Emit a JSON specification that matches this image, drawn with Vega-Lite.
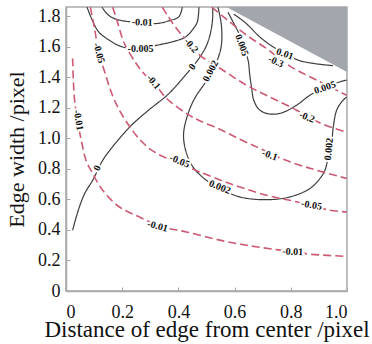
{
  "$schema": "https://vega.github.io/schema/vega-lite/v6.json",
  "width": 281,
  "height": 284,
  "autosize": "none",
  "padding": {"left": 66, "top": 7, "right": 25, "bottom": 53},
  "background": "white",
  "config": {
    "view": {"stroke": "#a9a9a9", "strokeWidth": 1.5},
    "font": "Liberation Serif",
    "axis": {
      "domainColor": "#a9a9a9",
      "domainWidth": 1.5,
      "tickColor": "#a9a9a9",
      "tickSize": -4,
      "grid": false,
      "labelFont": "Liberation Serif",
      "labelFontSize": 18,
      "labelColor": "#111111",
      "titleFont": "Liberation Serif",
      "titleFontSize": 22,
      "titleFontWeight": "normal",
      "titleColor": "#111111"
    }
  },
  "datasets": {
    "gray": [
      {"x": 0.571, "y": 1.86},
      {"x": 1.0, "y": 1.435}
    ],
    "lines": [
      {"k": "s-0.01", "t": "solid", "x": 0.1284, "y": 1.859},
      {"k": "s-0.01", "t": "solid", "x": 0.1473, "y": 1.813},
      {"k": "s-0.01", "t": "solid", "x": 0.1723, "y": 1.784},
      {"k": "s-0.01", "t": "solid", "x": 0.2116, "y": 1.767},
      {"k": "s-0.01", "t": "solid", "x": 0.2711, "y": 1.759},
      {"k": "s-0.01", "t": "solid", "x": 0.3247, "y": 1.752},
      {"k": "s-0.01", "t": "solid", "x": 0.3686, "y": 1.771},
      {"k": "s-0.01", "t": "solid", "x": 0.4017, "y": 1.796},
      {"k": "s-0.01", "t": "solid", "x": 0.4138, "y": 1.859},

      {"k": "s-0.005", "t": "solid", "x": 0.0749, "y": 1.859},
      {"k": "s-0.005", "t": "solid", "x": 0.0903, "y": 1.787},
      {"k": "s-0.005", "t": "solid", "x": 0.1163, "y": 1.697},
      {"k": "s-0.005", "t": "solid", "x": 0.1544, "y": 1.642},
      {"k": "s-0.005", "t": "solid", "x": 0.1998, "y": 1.599},
      {"k": "s-0.005", "t": "solid", "x": 0.2651, "y": 1.588},
      {"k": "s-0.005", "t": "solid", "x": 0.3247, "y": 1.610},
      {"k": "s-0.005", "t": "solid", "x": 0.3864, "y": 1.636},
      {"k": "s-0.005", "t": "solid", "x": 0.4256, "y": 1.664},
      {"k": "s-0.005", "t": "solid", "x": 0.4542, "y": 1.721},
      {"k": "s-0.005", "t": "solid", "x": 0.4674, "y": 1.763},
      {"k": "s-0.005", "t": "solid", "x": 0.4731, "y": 1.859},

      {"k": "s0", "t": "solid", "x": 0.0235, "y": 0.398},
      {"k": "s0", "t": "solid", "x": 0.0474, "y": 0.550},
      {"k": "s0", "t": "solid", "x": 0.0689, "y": 0.647},
      {"k": "s0", "t": "solid", "x": 0.0949, "y": 0.725},
      {"k": "s0", "t": "solid", "x": 0.1306, "y": 0.856},
      {"k": "s0", "t": "solid", "x": 0.1616, "y": 0.935},
      {"k": "s0", "t": "solid", "x": 0.2294, "y": 1.079},
      {"k": "s0", "t": "solid", "x": 0.2936, "y": 1.184},
      {"k": "s0", "t": "solid", "x": 0.3614, "y": 1.285},
      {"k": "s0", "t": "solid", "x": 0.4281, "y": 1.420},
      {"k": "s0", "t": "solid", "x": 0.4756, "y": 1.530},
      {"k": "s0", "t": "solid", "x": 0.5005, "y": 1.610},
      {"k": "s0", "t": "solid", "x": 0.5148, "y": 1.695},
      {"k": "s0", "t": "solid", "x": 0.5219, "y": 1.787},
      {"k": "s0", "t": "solid", "x": 0.5219, "y": 1.859},

      {"k": "s0.002", "t": "solid", "x": 0.5408, "y": 1.859},
      {"k": "s0.002", "t": "solid", "x": 0.5530, "y": 1.741},
      {"k": "s0.002", "t": "solid", "x": 0.5530, "y": 1.610},
      {"k": "s0.002", "t": "solid", "x": 0.5408, "y": 1.523},
      {"k": "s0.002", "t": "solid", "x": 0.5230, "y": 1.446},
      {"k": "s0.002", "t": "solid", "x": 0.4934, "y": 1.359},
      {"k": "s0.002", "t": "solid", "x": 0.4577, "y": 1.261},
      {"k": "s0.002", "t": "solid", "x": 0.4328, "y": 1.152},
      {"k": "s0.002", "t": "solid", "x": 0.4185, "y": 1.031},
      {"k": "s0.002", "t": "solid", "x": 0.4256, "y": 0.922},
      {"k": "s0.002", "t": "solid", "x": 0.4517, "y": 0.813},
      {"k": "s0.002", "t": "solid", "x": 0.4995, "y": 0.725},
      {"k": "s0.002", "t": "solid", "x": 0.5470, "y": 0.673},
      {"k": "s0.002", "t": "solid", "x": 0.6183, "y": 0.616},
      {"k": "s0.002", "t": "solid", "x": 0.7135, "y": 0.598},
      {"k": "s0.002", "t": "solid", "x": 0.7966, "y": 0.616},
      {"k": "s0.002", "t": "solid", "x": 0.8680, "y": 0.671},
      {"k": "s0.002", "t": "solid", "x": 0.9037, "y": 0.737},
      {"k": "s0.002", "t": "solid", "x": 0.9215, "y": 0.791},
      {"k": "s0.002", "t": "solid", "x": 0.9333, "y": 0.878},
      {"k": "s0.002", "t": "solid", "x": 0.9454, "y": 0.968},
      {"k": "s0.002", "t": "solid", "x": 0.9511, "y": 1.075},
      {"k": "s0.002", "t": "solid", "x": 0.9632, "y": 1.184},
      {"k": "s0.002", "t": "solid", "x": 0.9811, "y": 1.239},
      {"k": "s0.002", "t": "solid", "x": 0.9990, "y": 1.271},

      {"k": "s0.005", "t": "solid", "x": 0.5765, "y": 1.826},
      {"k": "s0.005", "t": "solid", "x": 0.6004, "y": 1.741},
      {"k": "s0.005", "t": "solid", "x": 0.6183, "y": 1.676},
      {"k": "s0.005", "t": "solid", "x": 0.6300, "y": 1.610},
      {"k": "s0.005", "t": "solid", "x": 0.6479, "y": 1.512},
      {"k": "s0.005", "t": "solid", "x": 0.6540, "y": 1.414},
      {"k": "s0.005", "t": "solid", "x": 0.6600, "y": 1.337},
      {"k": "s0.005", "t": "solid", "x": 0.6682, "y": 1.250},
      {"k": "s0.005", "t": "solid", "x": 0.6860, "y": 1.191},
      {"k": "s0.005", "t": "solid", "x": 0.7135, "y": 1.163},
      {"k": "s0.005", "t": "solid", "x": 0.7610, "y": 1.163},
      {"k": "s0.005", "t": "solid", "x": 0.8206, "y": 1.217},
      {"k": "s0.005", "t": "solid", "x": 0.8680, "y": 1.282},
      {"k": "s0.005", "t": "solid", "x": 0.9215, "y": 1.333},
      {"k": "s0.005", "t": "solid", "x": 0.9750, "y": 1.370},
      {"k": "s0.005", "t": "solid", "x": 0.9990, "y": 1.381},

      {"k": "s0.01", "t": "solid", "x": 0.5969, "y": 1.813},
      {"k": "s0.01", "t": "solid", "x": 0.6360, "y": 1.761},
      {"k": "s0.01", "t": "solid", "x": 0.6897, "y": 1.664},
      {"k": "s0.01", "t": "solid", "x": 0.7371, "y": 1.599},
      {"k": "s0.01", "t": "solid", "x": 0.7788, "y": 1.556},
      {"k": "s0.01", "t": "solid", "x": 0.8263, "y": 1.512},
      {"k": "s0.01", "t": "solid", "x": 0.8858, "y": 1.489},
      {"k": "s0.01", "t": "solid", "x": 0.9500, "y": 1.476},

      {"k": "d-0.01", "t": "dashed", "x": 0.0235, "y": 1.523},
      {"k": "d-0.01", "t": "dashed", "x": 0.0296, "y": 1.271},
      {"k": "d-0.01", "t": "dashed", "x": 0.0414, "y": 1.107},
      {"k": "d-0.01", "t": "dashed", "x": 0.0546, "y": 0.986},
      {"k": "d-0.01", "t": "dashed", "x": 0.0714, "y": 0.855},
      {"k": "d-0.01", "t": "dashed", "x": 0.0949, "y": 0.769},
      {"k": "d-0.01", "t": "dashed", "x": 0.1306, "y": 0.660},
      {"k": "d-0.01", "t": "dashed", "x": 0.1900, "y": 0.550},
      {"k": "d-0.01", "t": "dashed", "x": 0.2615, "y": 0.485},
      {"k": "d-0.01", "t": "dashed", "x": 0.3330, "y": 0.424},
      {"k": "d-0.01", "t": "dashed", "x": 0.4280, "y": 0.387},
      {"k": "d-0.01", "t": "dashed", "x": 0.5470, "y": 0.333},
      {"k": "d-0.01", "t": "dashed", "x": 0.6540, "y": 0.296},
      {"k": "d-0.01", "t": "dashed", "x": 0.7490, "y": 0.271},
      {"k": "d-0.01", "t": "dashed", "x": 0.8080, "y": 0.256},
      {"k": "d-0.01", "t": "dashed", "x": 0.8740, "y": 0.240},
      {"k": "d-0.01", "t": "dashed", "x": 0.9990, "y": 0.227},

      {"k": "d-0.05", "t": "dashed", "x": 0.0867, "y": 1.859},
      {"k": "d-0.05", "t": "dashed", "x": 0.1013, "y": 1.722},
      {"k": "d-0.05", "t": "dashed", "x": 0.1152, "y": 1.577},
      {"k": "d-0.05", "t": "dashed", "x": 0.1402, "y": 1.420},
      {"k": "d-0.05", "t": "dashed", "x": 0.1652, "y": 1.282},
      {"k": "d-0.05", "t": "dashed", "x": 0.1900, "y": 1.184},
      {"k": "d-0.05", "t": "dashed", "x": 0.2258, "y": 1.079},
      {"k": "d-0.05", "t": "dashed", "x": 0.2615, "y": 0.994},
      {"k": "d-0.05", "t": "dashed", "x": 0.3043, "y": 0.922},
      {"k": "d-0.05", "t": "dashed", "x": 0.3508, "y": 0.876},
      {"k": "d-0.05", "t": "dashed", "x": 0.4040, "y": 0.837},
      {"k": "d-0.05", "t": "dashed", "x": 0.4756, "y": 0.780},
      {"k": "d-0.05", "t": "dashed", "x": 0.5826, "y": 0.704},
      {"k": "d-0.05", "t": "dashed", "x": 0.7135, "y": 0.627},
      {"k": "d-0.05", "t": "dashed", "x": 0.7966, "y": 0.594},
      {"k": "d-0.05", "t": "dashed", "x": 0.8740, "y": 0.562},
      {"k": "d-0.05", "t": "dashed", "x": 0.9390, "y": 0.529},
      {"k": "d-0.05", "t": "dashed", "x": 0.9990, "y": 0.518},

      {"k": "d-0.1", "t": "dashed", "x": 0.1663, "y": 1.859},
      {"k": "d-0.1", "t": "dashed", "x": 0.1830, "y": 1.761},
      {"k": "d-0.1", "t": "dashed", "x": 0.2080, "y": 1.621},
      {"k": "d-0.1", "t": "dashed", "x": 0.2497, "y": 1.490},
      {"k": "d-0.1", "t": "dashed", "x": 0.2793, "y": 1.420},
      {"k": "d-0.1", "t": "dashed", "x": 0.3150, "y": 1.359},
      {"k": "d-0.1", "t": "dashed", "x": 0.3568, "y": 1.263},
      {"k": "d-0.1", "t": "dashed", "x": 0.4281, "y": 1.163},
      {"k": "d-0.1", "t": "dashed", "x": 0.4756, "y": 1.115},
      {"k": "d-0.1", "t": "dashed", "x": 0.5470, "y": 1.060},
      {"k": "d-0.1", "t": "dashed", "x": 0.6183, "y": 0.994},
      {"k": "d-0.1", "t": "dashed", "x": 0.6780, "y": 0.944},
      {"k": "d-0.1", "t": "dashed", "x": 0.7256, "y": 0.902},
      {"k": "d-0.1", "t": "dashed", "x": 0.7727, "y": 0.863},
      {"k": "d-0.1", "t": "dashed", "x": 0.8323, "y": 0.824},
      {"k": "d-0.1", "t": "dashed", "x": 0.8919, "y": 0.791},
      {"k": "d-0.1", "t": "dashed", "x": 0.9990, "y": 0.737},

      {"k": "d-0.2", "t": "dashed", "x": 0.3425, "y": 1.859},
      {"k": "d-0.2", "t": "dashed", "x": 0.3650, "y": 1.794},
      {"k": "d-0.2", "t": "dashed", "x": 0.3900, "y": 1.728},
      {"k": "d-0.2", "t": "dashed", "x": 0.4185, "y": 1.663},
      {"k": "d-0.2", "t": "dashed", "x": 0.4460, "y": 1.604},
      {"k": "d-0.2", "t": "dashed", "x": 0.4756, "y": 1.545},
      {"k": "d-0.2", "t": "dashed", "x": 0.5587, "y": 1.446},
      {"k": "d-0.2", "t": "dashed", "x": 0.6422, "y": 1.348},
      {"k": "d-0.2", "t": "dashed", "x": 0.7253, "y": 1.271},
      {"k": "d-0.2", "t": "dashed", "x": 0.8206, "y": 1.184},
      {"k": "d-0.2", "t": "dashed", "x": 0.8562, "y": 1.145},
      {"k": "d-0.2", "t": "dashed", "x": 0.9155, "y": 1.092},
      {"k": "d-0.2", "t": "dashed", "x": 0.9990, "y": 1.040},

      {"k": "d-0.3", "t": "dashed", "x": 0.5184, "y": 1.859},
      {"k": "d-0.3", "t": "dashed", "x": 0.5708, "y": 1.780},
      {"k": "d-0.3", "t": "dashed", "x": 0.6422, "y": 1.676},
      {"k": "d-0.3", "t": "dashed", "x": 0.7135, "y": 1.588},
      {"k": "d-0.3", "t": "dashed", "x": 0.7538, "y": 1.531},
      {"k": "d-0.3", "t": "dashed", "x": 0.7966, "y": 1.473},
      {"k": "d-0.3", "t": "dashed", "x": 0.8919, "y": 1.381},
      {"k": "d-0.3", "t": "dashed", "x": 0.9990, "y": 1.282}
    ],
    "labels": [
      {"text": "-0.01", "x": 0.2711, "y": 1.759, "a": 2},
      {"text": "-0.005", "x": 0.2651, "y": 1.588, "a": 0},
      {"text": "0", "x": 0.4495, "y": 1.468, "a": -50},
      {"text": "0", "x": 0.1117, "y": 0.804, "a": -62},
      {"text": "0.002", "x": 0.5148, "y": 1.44, "a": -62},
      {"text": "0.002", "x": 0.547, "y": 0.68, "a": 22},
      {"text": "0.002", "x": 0.9358, "y": 0.929, "a": -84},
      {"text": "0.005", "x": 0.6254, "y": 1.61, "a": 70},
      {"text": "0.005", "x": 0.9215, "y": 1.332, "a": -18},
      {"text": "0.01", "x": 0.7788, "y": 1.551, "a": 20},
      {"text": "-0.01", "x": 0.0439, "y": 1.119, "a": 80},
      {"text": "-0.01", "x": 0.3257, "y": 0.424, "a": 15},
      {"text": "-0.01", "x": 0.8073, "y": 0.257, "a": 3},
      {"text": "-0.05", "x": 0.117, "y": 1.558, "a": 75},
      {"text": "-0.05", "x": 0.4042, "y": 0.85, "a": 22},
      {"text": "-0.05", "x": 0.874, "y": 0.562, "a": 10},
      {"text": "-0.1", "x": 0.3115, "y": 1.368, "a": 50},
      {"text": "-0.1", "x": 0.7253, "y": 0.889, "a": 20},
      {"text": "-0.2", "x": 0.4452, "y": 1.607, "a": 50},
      {"text": "-0.2", "x": 0.8573, "y": 1.138, "a": 22},
      {"text": "-0.3", "x": 0.7467, "y": 1.502, "a": 25}
    ]
  },
  "encoding": {
    "x": {
      "field": "x",
      "type": "quantitative",
      "scale": {"domain": [0, 1], "nice": false, "zero": false},
      "axis": {
        "title": "Distance of edge from center /pixel",
        "titleFontSize": 23,
        "values": [0, 0.2, 0.4, 0.6, 0.8, 1.0],
        "labelExpr": "datum.value === 0 ? '0' : format(datum.value, '.1f')",
        "labelPadding": 16,
        "titlePadding": -3
      }
    },
    "y": {
      "field": "y",
      "type": "quantitative",
      "scale": {"domain": [0, 1.86], "nice": false, "zero": false},
      "axis": {
        "title": "Edge width /pixel",
        "values": [0, 0.2, 0.4, 0.6, 0.8, 1.0, 1.2, 1.4, 1.6, 1.8],
        "labelExpr": "datum.value === 0 ? '0' : format(datum.value, '.1f')",
        "labelPadding": 10,
        "titlePadding": 9
      }
    }
  },
  "layer": [
    {
      "data": {"name": "gray"},
      "mark": {"type": "area", "color": "#a3a6ad", "opacity": 1},
      "encoding": {"y2": {"datum": 1.86}}
    },
    {
      "data": {"name": "lines"},
      "mark": {"type": "line", "interpolate": "catmull-rom", "clip": true},
      "encoding": {
        "detail": {"field": "k"},
        "order": {"value": null},
        "color": {
          "field": "t",
          "type": "nominal",
          "scale": {"domain": ["solid", "dashed"], "range": ["#3d3d3d", "#cc5a72"]},
          "legend": null
        },
        "strokeDash": {
          "field": "t",
          "type": "nominal",
          "scale": {"domain": ["solid", "dashed"], "range": [[1, 0], [8, 4]]},
          "legend": null
        },
        "strokeWidth": {
          "field": "t",
          "type": "nominal",
          "scale": {"domain": ["solid", "dashed"], "range": [1.2, 1.6]},
          "legend": null
        }
      }
    },
    {
      "data": {"name": "labels"},
      "mark": {"type": "text", "font": "Liberation Serif", "fontWeight": "bold", "fontSize": 10, "fill": "white", "stroke": "white", "strokeWidth": 4, "align": "center", "baseline": "middle"},
      "encoding": {
        "text": {"field": "text"},
        "angle": {"field": "a", "type": "quantitative", "scale": null}
      }
    },
    {
      "data": {"name": "labels"},
      "mark": {"type": "text", "font": "Liberation Serif", "fontWeight": "bold", "fontSize": 10, "fill": "#111111", "align": "center", "baseline": "middle"},
      "encoding": {
        "text": {"field": "text"},
        "angle": {"field": "a", "type": "quantitative", "scale": null}
      }
    }
  ]
}
